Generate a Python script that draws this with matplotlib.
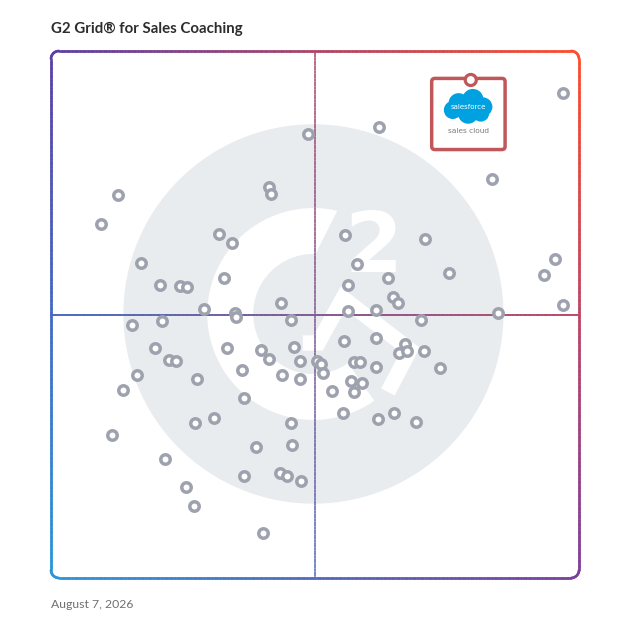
import numpy as np
import matplotlib.pyplot as plt
from matplotlib.collections import LineCollection
from matplotlib.patches import Circle, Polygon, FancyBboxPatch
from matplotlib.colors import to_rgb

# --- data (satisfaction x, market presence y, 0-100) ---
sat_x = [48.7, 41.3, 41.7, 12.7, 9.5, 31.8, 34.3, 17.0, 32.8, 20.6, 24.4, 25.8, 43.6, 29.0, 34.8,
         35.0, 45.5, 15.3, 21.0, 19.7, 22.3, 23.7, 33.3, 39.8, 41.3, 46.0, 47.2, 16.3, 13.6, 27.7,
         36.2, 43.8, 47.2, 36.6, 30.9, 27.3, 45.5, 11.6, 38.8, 45.6, 21.6, 36.6, 43.4, 44.7, 47.3,
         25.6, 27.1, 40.2,
         97.0, 62.1, 83.5, 55.7, 70.8, 58.0, 95.5, 93.4, 75.4, 63.8, 56.3, 64.8, 65.7, 97.0, 56.3,
         61.6, 84.7,
         70.1, 55.5, 61.6, 67.0, 65.9, 67.4, 70.6, 50.4, 51.1, 51.5, 57.4, 58.5, 61.6, 73.7, 56.8,
         58.9, 57.4, 53.2, 55.3, 61.9, 65.0, 69.1]
pres_y = [84.2, 74.2, 72.9, 72.7, 67.2, 65.3, 63.6, 59.8, 56.9, 55.6, 55.4, 55.2, 52.2, 51.0, 50.3,
          49.5, 49.0, 48.0, 48.8, 43.6, 41.4, 41.2, 43.6, 43.3, 41.6, 43.8, 41.2, 38.5, 35.7, 37.8,
          39.5, 38.5, 37.8, 34.2, 30.4, 29.4, 29.4, 27.1, 24.9, 25.2, 22.6, 19.4, 19.9, 19.4, 18.4,
          17.3, 13.7, 8.5,
          92.0, 85.6, 75.7, 65.1, 64.3, 59.6, 60.5, 57.5, 57.9, 56.9, 55.6, 53.3, 52.2, 51.8, 50.7,
          50.9, 50.3,
          49.0, 45.0, 45.5, 44.4, 42.7, 43.1, 43.1, 41.2, 40.6, 38.9, 41.0, 41.0, 40.0, 39.8, 37.4,
          37.0, 35.3, 35.5, 31.3, 30.2, 31.3, 29.6]

# highlighted product
sf_x, sf_y = 79.5, 94.5
sf_label = "sales cloud"

title = "G2 Grid\u00ae for Sales Coaching"
date_text = "August 7, 2026"

# corner colours of the frame gradient
TL, TR = np.array(to_rgb("#5B3FA6")), np.array(to_rgb("#FF4D2A"))
BL, BR = np.array(to_rgb("#2B96DA")), np.array(to_rgb("#7C3E9E"))


def grad_color(x, y):
    u, v = x / 100.0, y / 100.0
    return (1 - u) * (1 - v) * BL + u * (1 - v) * BR + (1 - u) * v * TL + u * v * TR


def densify(pts, step=0.5):
    out = [pts[0]]
    for a, b in zip(pts[:-1], pts[1:]):
        n = max(1, int(np.hypot(b[0] - a[0], b[1] - a[1]) / step))
        for t in np.linspace(0, 1, n + 1)[1:]:
            out.append((a[0] + (b[0] - a[0]) * t, a[1] + (b[1] - a[1]) * t))
    return np.array(out)


def grad_line(ax, pts, lw, alpha=1.0, z=3):
    pts = densify(pts)
    segs = np.stack([pts[:-1], pts[1:]], axis=1)
    mids = segs.mean(axis=1)
    cols = [(*grad_color(mx, my), alpha) for mx, my in mids]
    lc = LineCollection(segs, colors=cols, linewidths=lw, zorder=z, capstyle='round')
    lc.set_clip_on(False)
    ax.add_collection(lc)


fig = plt.figure(figsize=(6.28, 6.28), dpi=100)
ax = fig.add_axes([51 / 628, 50 / 628, 528 / 628, 527 / 628])
ax.set_xlim(0, 100)
ax.set_ylim(0, 100)
ax.axis('off')

# watermark G2 logo
cx, cy = 49.7, 50.1
ax.add_patch(Circle((cx, cy), 36.0, color='#E9ECEF', zorder=1, lw=0))
r_out, r_in = 20.1, 11.4
t_out = np.radians(np.linspace(77, 305, 120))
t_in = np.radians(np.linspace(305, 88, 120))
g_pts = np.concatenate([np.c_[cx + r_out * np.cos(t_out), cy + r_out * np.sin(t_out)],
                        np.c_[cx + r_in * np.cos(t_in), cy + r_in * np.sin(t_in)]])
ax.add_patch(Polygon(g_pts, closed=True, color='white', lw=0, zorder=2))
chev = np.array([(47.7, 44.6), (50.6, 44.6), (55.3, 53.1), (68.0, 43.3), (63.8, 35.3)])
ax.plot(chev[:, 0], chev[:, 1], color='white', lw=11, solid_joinstyle='miter',
        solid_capstyle='butt', zorder=2)
ax.text(61.0, 58.1, "2", color='white', fontsize=60, fontweight='bold',
        ha='center', va='baseline', zorder=2)

# frame with rounded corners
x0, y0, x1, y1, r = 0, 0, 100, 100, 1.5
verts = []
for ccx, ccy, a0 in [(x1 - r, y1 - r, 0), (x0 + r, y1 - r, 90), (x0 + r, y0 + r, 180), (x1 - r, y0 + r, 270)]:
    t = np.radians(np.linspace(a0, a0 + 90, 10))
    verts += list(zip(ccx + r * np.cos(t), ccy + r * np.sin(t)))
verts.append(verts[0])
grad_line(ax, verts, 1.9, z=4)

# quadrant lines
grad_line(ax, [(0, 50), (100, 50)], 1.4, alpha=0.95, z=3)
grad_line(ax, [(50, 0), (50, 100)], 1.3, alpha=0.7, z=3)

# products
ax.plot(sat_x, pres_y, 'o', ms=6.8, mfc='white', mec='#9EA2AE', mew=2.5,
        zorder=5, clip_on=False)

# highlighted card
card_col = '#C0575A'
ax.add_patch(FancyBboxPatch((sf_x - 7.4, sf_y - 13.2), 13.9, 13.5,
                            boxstyle='round,pad=0,rounding_size=0.6',
                            fc='white', ec=card_col, lw=2.5, zorder=6))
ax.add_patch(Circle((sf_x, sf_y), 1.05, fc='white', ec=card_col, lw=2.3, zorder=7))
cloud_col = '#00A1E0'
for dx, dy, cr in [(-1.8, -4.4, 1.9), (0.9, -3.7, 2.0), (2.8, -5.1, 1.8),
                   (-2.9, -5.7, 1.7), (0.0, -6.4, 1.9), (2.4, -6.3, 1.6)]:
    ax.add_patch(Circle((sf_x - 0.5 + dx, sf_y + dy), cr, color=cloud_col, lw=0, zorder=7))
ax.text(sf_x - 0.5, sf_y - 5.2, "salesforce", color='white', fontsize=5,
        ha='center', va='center', zorder=8)
ax.text(sf_x - 0.5, sf_y - 9.6, sf_label, color='#7A7A7A', fontsize=5.3,
        ha='center', va='center', zorder=8)

fig.text(51 / 628, 1 - 29 / 628, title, fontsize=10.8, fontweight='bold',
         color='#2D2D2D', ha='left', va='center', family=['Lato', 'DejaVu Sans'])
fig.text(51 / 628, 1 - 604 / 628, date_text, fontsize=8.8, color='#707070',
         ha='left', va='center', family=['Lato', 'DejaVu Sans'])

fig.savefig('out.png', dpi=100, facecolor='white')
